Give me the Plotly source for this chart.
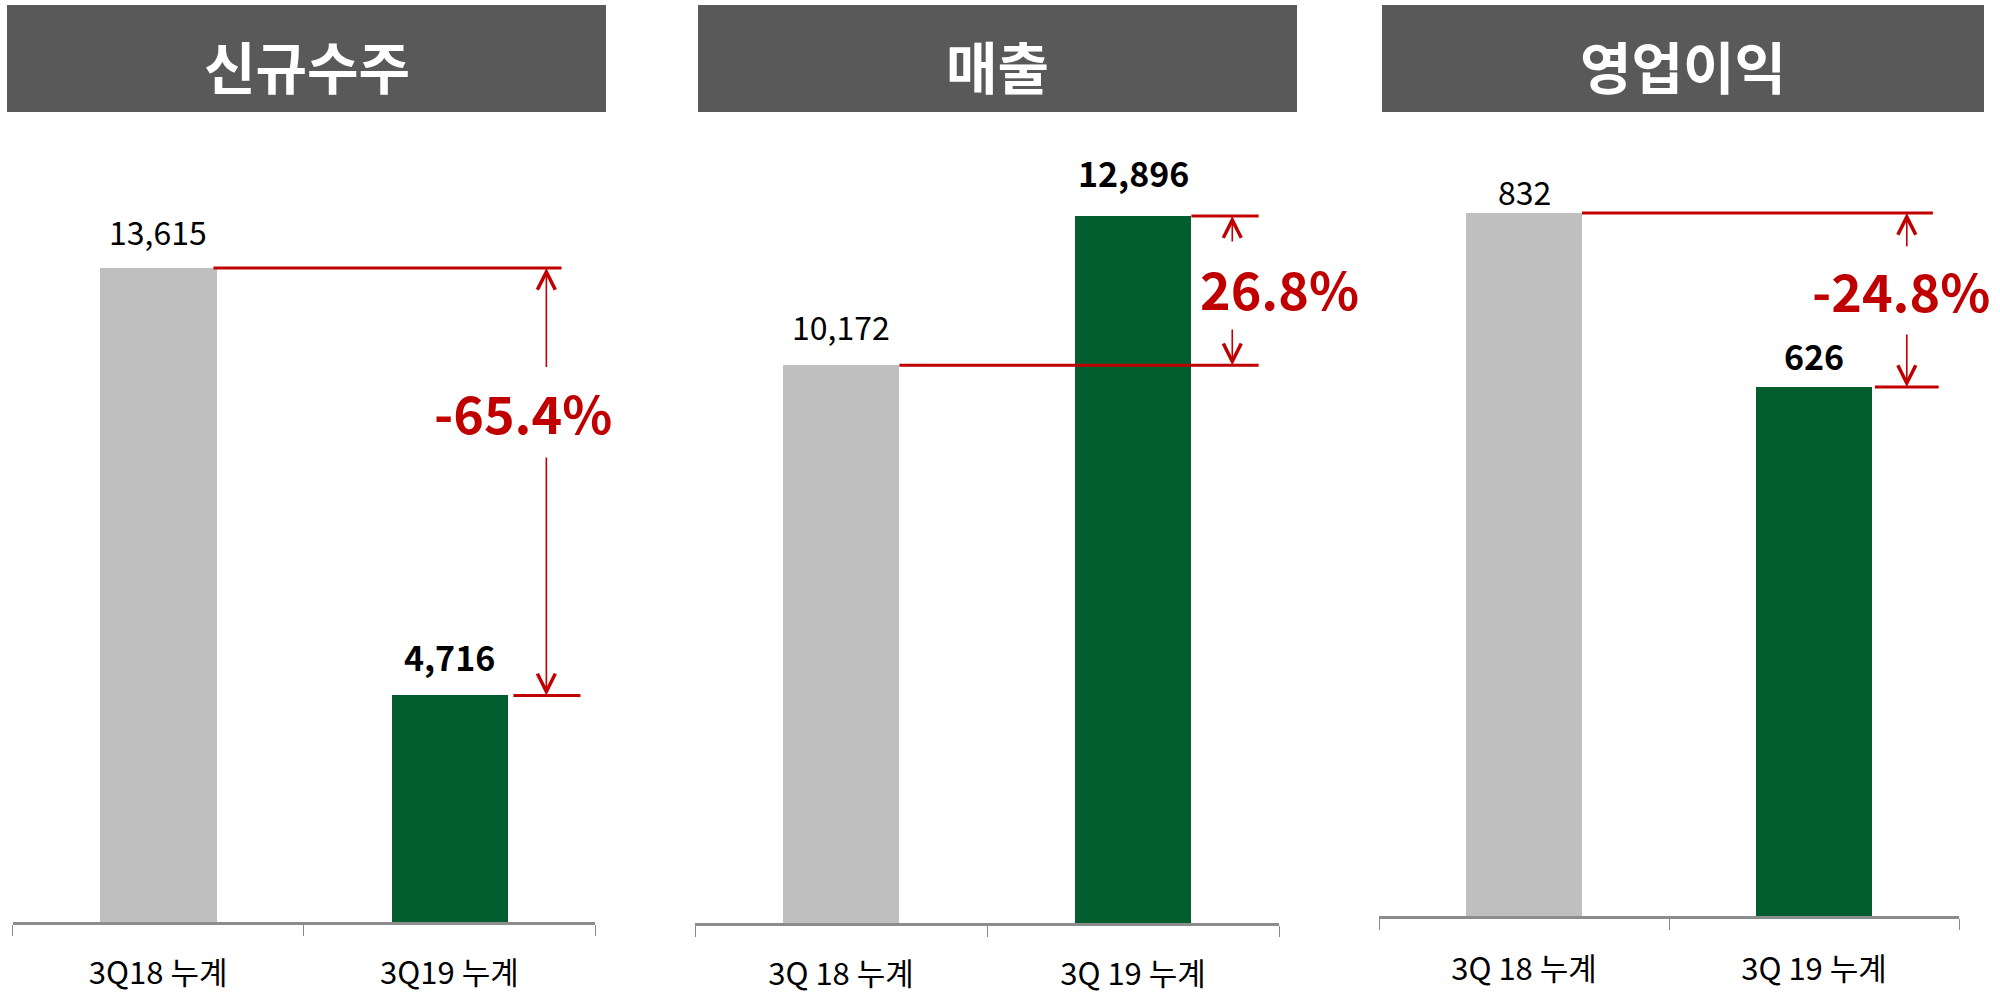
import plotly.graph_objects as go

# ---------------- data ----------------
panel_titles = ["신규수주", "매출", "영업이익"]
categories_orders = ["3Q18 누계", "3Q19 누계"]
categories_revenue = ["3Q 18 누계", "3Q 19 누계"]
categories_profit = ["3Q 18 누계", "3Q 19 누계"]
new_orders = [13615, 4716]
revenue = [10172, 12896]
op_profit = [832, 626]
change_labels = ["-65.4%", "26.8%", "-24.8%"]

categories = [categories_orders, categories_revenue, categories_profit]
values = [new_orders, revenue, op_profit]

# ---------------- style / layout ----------------
W, H = 2000, 993
FONT = "Noto Sans CJK KR"
GREY_BAR = "#BFBFBF"
GREEN_BAR = "#025E2E"
RED = "#C00000"
HEADER = "#595959"
AXIS_GREY = "#8C8C8C"

x_dom_px = [(12.5, 595), (695, 1279), (1379, 1959)]
y_bottom_px = [922, 923, 916]
y_top_px = 130
y_range_max = [16488, 14465, 930.2]
header_px = [(7, 606), (698, 1297), (1382, 1984)]
header_y_px = (5, 112)
label_standoff = [22, 22, 24]

# reference-line geometry (in category units)
line0_x = [(0.19, 1.385), (0.20, 1.43), (0.20, 1.41)]
line1_x = [(1.22, 1.45), (1.20, 1.43), (1.21, 1.43)]
arrow_x = [1.333, 1.34, 1.32]
text_x = [1.254, 1.50, 1.30]
f_top = [0.235, 0.18, 0.20]
f_bot = [0.44, 0.75, 0.69]
f_txt = [0.336, 0.48, 0.44]
label_shift = [[37, 39], [39, 44], [22, 32]]


def px(x):
    return x / W


def py(y):
    return 1 - y / H


fig = go.Figure()
shapes = []
annotations = []

for i in range(3):
    sfx = "" if i == 0 else str(i + 1)
    xr, yr = "x" + sfx, "y" + sfx
    v = values[i]
    fig.add_trace(go.Bar(
        x=categories[i], y=v, width=0.4,
        marker=dict(color=[GREY_BAR, GREEN_BAR], line=dict(width=0)),
        xaxis=xr, yaxis=yr, hoverinfo="skip",
    ))
    fig.layout["xaxis" + sfx] = dict(
        domain=[px(x_dom_px[i][0]), px(x_dom_px[i][1])],
        anchor=yr, range=[-0.5, 1.5], type="category",
        showline=True, linecolor=AXIS_GREY, linewidth=3,
        ticks="outside", tickson="boundaries", ticklen=11,
        tickcolor=AXIS_GREY, tickwidth=1.2,
        tickfont=dict(family=FONT, size=31, color="#000000"),
        ticklabelstandoff=label_standoff[i], automargin=False,
        showgrid=False, zeroline=False, fixedrange=True,
    )
    fig.layout["yaxis" + sfx] = dict(
        domain=[py(y_bottom_px[i]), py(y_top_px)],
        anchor=xr, range=[0, y_range_max[i]], visible=False,
        automargin=False,
        showgrid=False, zeroline=False, fixedrange=True,
    )

    # header box + title
    shapes.append(dict(type="rect", xref="paper", yref="paper",
                       x0=px(header_px[i][0]), x1=px(header_px[i][1]),
                       y0=py(header_y_px[1]), y1=py(header_y_px[0]),
                       fillcolor=HEADER, line=dict(width=0), layer="below"))
    annotations.append(dict(xref="paper", yref="paper",
                            x=px((header_px[i][0] + header_px[i][1]) / 2),
                            y=py(64), text="<b>%s</b>" % panel_titles[i],
                            showarrow=False, xanchor="center", yanchor="middle",
                            font=dict(family=FONT, size=56, color="white")))

    # value labels
    for j in range(2):
        txt = f"{v[j]:,}"
        size = 32
        if j == 1:
            txt = "<b>%s</b>" % txt
            size = 34
        annotations.append(dict(xref=xr, yref=yr, x=j, y=v[j], text=txt,
                                showarrow=False, xanchor="center", yanchor="middle",
                                yshift=label_shift[i][j],
                                font=dict(family=FONT, size=size, color="#000000")))

    # red reference lines
    shapes.append(dict(type="line", xref=xr, yref=yr,
                       x0=line0_x[i][0], x1=line0_x[i][1], y0=v[0], y1=v[0],
                       line=dict(color=RED, width=3)))
    shapes.append(dict(type="line", xref=xr, yref=yr,
                       x0=line1_x[i][0], x1=line1_x[i][1], y0=v[1], y1=v[1],
                       line=dict(color=RED, width=3)))

    hi, lo = max(v), min(v)
    span = hi - lo
    # arrows
    annotations.append(dict(xref=xr, yref=yr, axref=xr, ayref=yr,
                            x=arrow_x[i], y=hi, ax=arrow_x[i], ay=hi - f_top[i] * span,
                            text="", showarrow=True, arrowhead=5, arrowsize=2.2,
                            arrowwidth=1.6, arrowcolor=RED, standoff=0))
    annotations.append(dict(xref=xr, yref=yr, axref=xr, ayref=yr,
                            x=arrow_x[i], y=lo, ax=arrow_x[i], ay=hi - f_bot[i] * span,
                            text="", showarrow=True, arrowhead=5, arrowsize=2.2,
                            arrowwidth=1.6, arrowcolor=RED, standoff=0))
    annotations.append(dict(xref=xr, yref=yr, x=text_x[i], y=hi - f_txt[i] * span,
                            text="<b>%s</b>" % change_labels[i], showarrow=False,
                            xanchor="center", yanchor="middle",
                            font=dict(family=FONT, size=52, color=RED)))

fig.update_layout(
    width=W, height=H, margin=dict(l=0, r=0, t=0, b=0, autoexpand=False),
    paper_bgcolor="white", plot_bgcolor="white",
    showlegend=False, shapes=shapes, annotations=annotations,
    bargap=0,
)

fig.write_html(
    "out.html",
    config={"displayModeBar": False},
    post_script="document.body.style.margin='0px';document.body.style.overflow='hidden';",
)
